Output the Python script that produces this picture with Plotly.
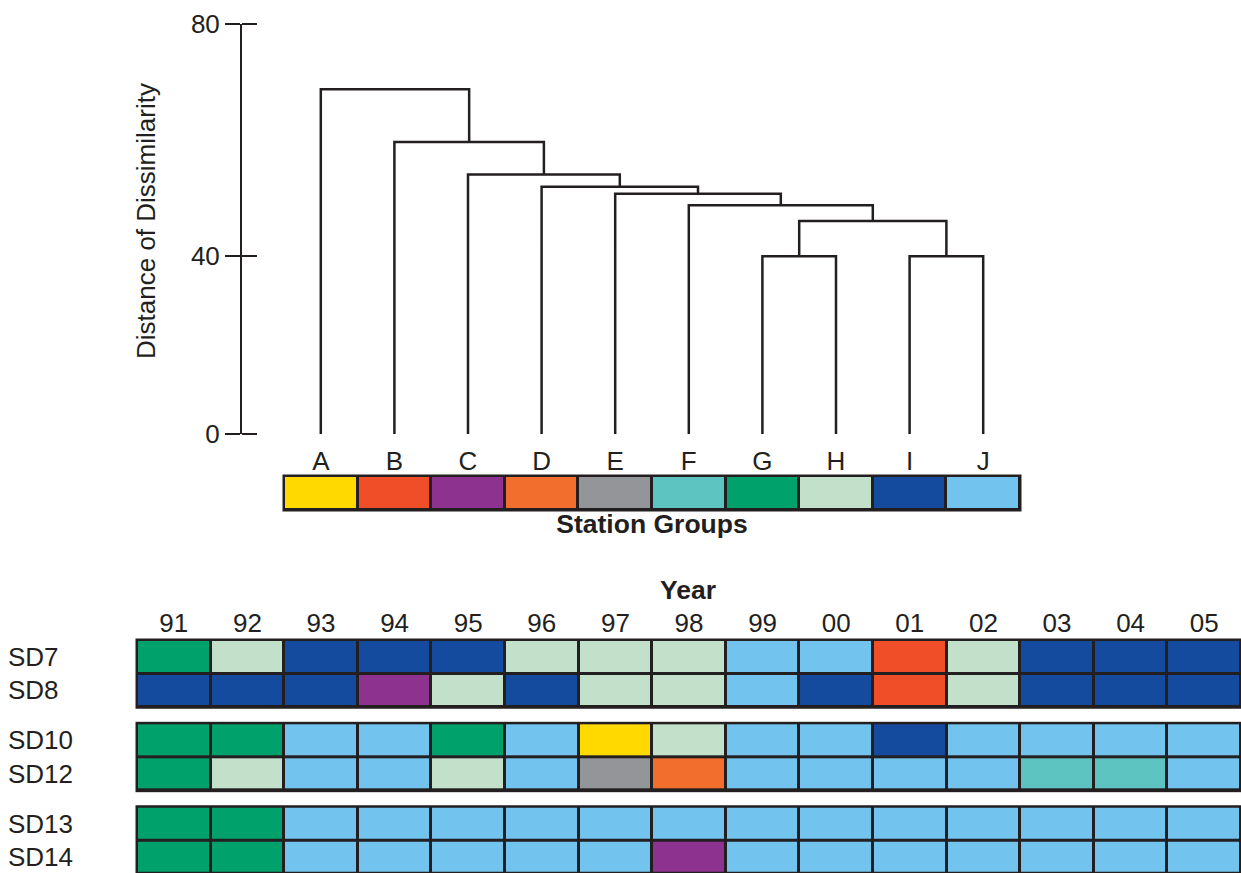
import plotly.graph_objects as go

W, H = 1241, 873
INK = "#231f20"
FONT = "Liberation Sans, Arial, sans-serif"
FS = 26
FS_BOLD = 26.5

# ---- station groups (dendrogram leaves) ----
leaf_labels = ["A", "B", "C", "D", "E", "F", "G", "H", "I", "J"]
group_colors = ["#FFD900", "#F04E28", "#8D328F", "#F26E2D", "#939598",
                "#5EC4C1", "#00A16A", "#C2E0CA", "#144B9E", "#72C3ED"]

# agglomeration steps: (left cluster, right cluster, distance)
# clusters 0-9 are the leaves, step k creates cluster 10 + k
merges = [
    (6, 7, 40.0),
    (8, 9, 40.0),
    (10, 11, 46.1),
    (5, 12, 48.8),
    (4, 13, 50.8),
    (3, 14, 52.0),
    (2, 15, 54.1),
    (1, 16, 59.7),
    (0, 17, 68.8),
]
dist_ticks = [0, 40, 80]

# ---- yearly group membership per station ----
years = ["91", "92", "93", "94", "95", "96", "97", "98",
         "99", "00", "01", "02", "03", "04", "05"]
sd7 = ["G", "H", "I", "I", "I", "H", "H", "H", "J", "J", "B", "H", "I", "I", "I"]
sd8 = ["I", "I", "I", "C", "H", "I", "H", "H", "J", "I", "B", "H", "I", "I", "I"]
sd10 = ["G", "G", "J", "J", "G", "J", "A", "H", "J", "J", "I", "J", "J", "J", "J"]
sd12 = ["G", "H", "J", "J", "H", "J", "E", "D", "J", "J", "J", "J", "F", "F", "J"]
sd13 = ["G", "G", "J", "J", "J", "J", "J", "J", "J", "J", "J", "J", "J", "J", "J"]
sd14 = ["G", "G", "J", "J", "J", "J", "J", "C", "J", "J", "J", "J", "J", "J", "J"]
station_blocks = [
    (["SD7", "SD8"], [sd7, sd8]),
    (["SD10", "SD12"], [sd10, sd12]),
    (["SD13", "SD14"], [sd13, sd14]),
]

# distance scale: linear above 40, compressed below 40
BREAK = 40.0
LOWER = 0.766


def dist_axis(d):
    return d if d >= BREAK else BREAK - (BREAK - d) * LOWER


def cells_x(a, b, n, pad=2.0):
    unit = (b - a) / n
    p0, p1 = max(0.0, a - pad), min(W, b + pad)
    dom = [p0 / W, p1 / W]
    rng = [-0.5 + (p0 - a) / unit, -0.5 + (p1 - a) / unit]
    return dom, rng


def cells_y(top, bot, n, pad=2.0):
    unit = (bot - top) / n
    p0, p1 = max(0.0, top - pad), min(H, bot + pad)
    dom = [(H - p1) / H, (H - p0) / H]
    rng = [-0.5 + (p1 - top) / unit, -0.5 + (p0 - top) / unit]
    return dom, rng


def discrete_scale(colors):
    n = len(colors)
    scale = []
    for i, c in enumerate(colors):
        scale += [[i / n, c], [(i + 1) / n, c]]
    return scale


fig = go.Figure()

# ---- dendrogram ----
pos = {i: (float(i), 0.0) for i in range(len(leaf_labels))}
xs, ys = [], []
for k, (l, r, h) in enumerate(merges):
    xl, hl = pos[l]
    xr, hr = pos[r]
    xs += [xl, xl, xr, xr, None]
    ys += [dist_axis(hl), dist_axis(h), dist_axis(h), dist_axis(hr), None]
    pos[len(leaf_labels) + k] = ((xl + xr) / 2, h)

fig.add_trace(go.Scatter(x=xs, y=ys, mode="lines", xaxis="x", yaxis="y",
                         line=dict(color=INK, width=2.5), hoverinfo="skip",
                         showlegend=False))
# second copy of the distance axis (inner half of the cross ticks)
fig.add_trace(go.Scatter(x=[], y=[], mode="lines", xaxis="x", yaxis="y2",
                         hoverinfo="skip", showlegend=False))

# ---- colour strip of station groups ----
strip_dom_x, strip_rng_x = cells_x(284, 1020, len(leaf_labels))
strip_dom_y, strip_rng_y = cells_y(476, 510, 1)
cs = discrete_scale(group_colors)
fig.add_trace(go.Heatmap(z=[list(range(len(leaf_labels)))],
                         x=list(range(len(leaf_labels))), y=[0],
                         xaxis="x2", yaxis="y6", colorscale=cs,
                         zmin=-0.5, zmax=len(leaf_labels) - 0.5,
                         xgap=3, ygap=3, showscale=False, hoverinfo="skip"))

# ---- yearly heatmap blocks ----
heat_dom_x, heat_rng_x = cells_x(137, 1241, len(years))
block_px = [(640, 707.3), (723.3, 790.7), (806.7, 874)]
yaxes = ["y3", "y4", "y5"]
code = {g: i for i, g in enumerate(leaf_labels)}
annotations = []
shapes = []
layout_y = {}
for (names, rows), (top, bot), ya in zip(station_blocks, block_px, yaxes):
    z = [[code[g] for g in row] for row in rows]
    fig.add_trace(go.Heatmap(z=z, x=list(range(len(years))),
                             y=list(range(len(names))),
                             xaxis="x3", yaxis=ya, colorscale=cs,
                             zmin=-0.5, zmax=len(leaf_labels) - 0.5,
                             xgap=3, ygap=3, showscale=False,
                             hoverinfo="skip"))
    dom, rng = cells_y(top, bot, len(names))
    layout_y["yaxis" + ya[1:]] = dict(domain=dom, range=rng, anchor="x3",
                                      visible=False, automargin=False)
    shapes.append(dict(type="rect", xref="x3", yref=ya, x0=-0.5,
                       x1=len(years) - 0.5, y0=-0.5, y1=len(names) - 0.5,
                       fillcolor=INK, line=dict(color=INK, width=3),
                       layer="below"))
    for i, nm in enumerate(names):
        annotations.append(dict(text=nm, xref="paper", yref=ya, x=6 / W,
                                y=i, xanchor="left", yanchor="middle",
                                showarrow=False,
                                font=dict(size=FS, color=INK, family=FONT)))

shapes.append(dict(type="rect", xref="x2", yref="y6", x0=-0.5,
                   x1=len(leaf_labels) - 0.5, y0=-0.5, y1=0.5,
                   fillcolor=INK, line=dict(color=INK, width=3),
                   layer="below"))

annotations.append(dict(text="Distance of Dissimilarity", xref="paper",
                        yref="paper", x=146 / W, y=(H - 221) / H,
                        textangle=-90, showarrow=False,
                        xanchor="center", yanchor="middle",
                        font=dict(size=FS, color=INK, family=FONT)))

dend_dom_y = [(H - 434) / H, (H - 24.3) / H]
dend_rng_y = [dist_axis(0), dist_axis(80)]
tickvals_y = [dist_axis(v) for v in dist_ticks]

fig.update_layout(
    template="none",
    width=W, height=H,
    margin=dict(l=0, r=0, t=0, b=0, pad=0, autoexpand=False),
    paper_bgcolor="white", plot_bgcolor="white",
    font=dict(family=FONT, color=INK, size=FS),
    showlegend=False,
    xaxis=dict(domain=strip_dom_x, range=strip_rng_x, anchor="y",
               tickmode="array", tickvals=list(range(len(leaf_labels))),
               ticktext=leaf_labels, ticks="", showline=False,
               showgrid=False, zeroline=False, ticklabelstandoff=9,
               tickfont=dict(size=FS), automargin=False),
    yaxis=dict(domain=dend_dom_y, range=dend_rng_y, anchor="free",
               position=241 / W, showline=True, linewidth=2, linecolor=INK,
               tickmode="array", tickvals=tickvals_y,
               ticktext=[str(v) for v in dist_ticks], ticks="outside",
               ticklen=15, tickwidth=2, tickcolor=INK, showgrid=False,
               zeroline=False, ticklabelstandoff=0,
               tickfont=dict(size=FS), automargin=False),
    yaxis2=dict(domain=dend_dom_y, range=dend_rng_y, anchor="free",
                position=241 / W, overlaying="y", side="right",
                showline=False, tickmode="array", tickvals=tickvals_y,
                ticks="outside", ticklen=15, tickwidth=2, tickcolor=INK,
                showticklabels=False, showgrid=False, zeroline=False,
                automargin=False),
    xaxis2=dict(domain=strip_dom_x, range=strip_rng_x, anchor="y6",
                showticklabels=False, ticks="", showgrid=False,
                zeroline=False, showline=False, automargin=False,
                title=dict(text="<b>Station Groups</b>", standoff=2,
                           font=dict(size=FS_BOLD))),
    yaxis6=dict(domain=strip_dom_y, range=strip_rng_y, anchor="x2",
                visible=False, automargin=False),
    xaxis3=dict(domain=heat_dom_x, range=heat_rng_x, anchor="y3",
                side="top", tickmode="array",
                tickvals=list(range(len(years))), ticktext=years, ticks="",
                showgrid=False, zeroline=False, showline=False,
                ticklabelstandoff=0, tickfont=dict(size=FS),
                automargin=False,
                title=dict(text="<b>Year</b>", standoff=0,
                           font=dict(size=FS_BOLD))),
    shapes=shapes,
    annotations=annotations,
    **layout_y,
)

fig.write_html("out.html")
